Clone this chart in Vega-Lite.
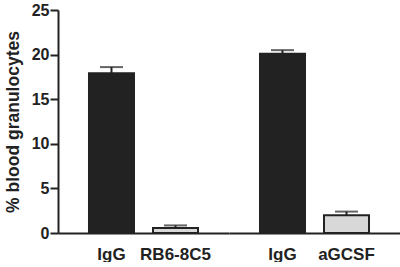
{
  "$schema": "https://vega.github.io/schema/vega-lite/v6.json",
  "padding": {"left": 4, "top": 2, "right": 0, "bottom": 0},
  "data": {"values": [
    {"group": "A", "label": "IgG", "mean": 17.9, "upper": 18.6, "kind": "control"},
    {"group": "A", "label": "RB6-8C5", "mean": 0.55, "upper": 0.85, "kind": "treated"},
    {"group": "B", "label": "IgG", "mean": 20.1, "upper": 20.5, "kind": "control"},
    {"group": "B", "label": "aGCSF", "mean": 2.0, "upper": 2.4, "kind": "treated"}
  ]},
  "facet": {"column": {"field": "group", "type": "nominal", "header": {"title": null, "labels": false}}},
  "spacing": 0,
  "resolve": {"scale": {"x": "independent"}},
  "spec": {
    "width": 171,
    "height": 223,
    "layer": [
      {
        "mark": {"type": "bar", "strokeWidth": 2, "stroke": "#222222"},
        "encoding": {
          "x": {"field": "label", "type": "nominal", "sort": ["IgG", "RB6-8C5", "aGCSF"],
                "scale": {"paddingInner": 0.297, "paddingOuter": 0.484},
                "axis": {"title": null, "labelAngle": 0, "ticks": false, "domainWidth": 2, "domainColor": "#222222",
                         "labelFont": "Liberation Sans", "labelFontWeight": "bold", "labelFontSize": 17, "labelColor": "#222222", "labelPadding": 13}},
          "y": {"field": "mean", "type": "quantitative", "scale": {"domain": [0, 25], "nice": false},
                "axis": {"title": "% blood granulocytes", "values": [0, 5, 10, 15, 20, 25], "grid": false,
                         "domainWidth": 2, "domainColor": "#222222", "tickWidth": 2, "tickSize": 8, "tickColor": "#222222",
                         "labelFont": "Liberation Sans", "labelFontWeight": "bold", "labelFontSize": 16, "labelColor": "#222222", "labelPadding": 1,
                         "titleFont": "Liberation Sans", "titleFontWeight": "bold", "titleFontSize": 17.5, "titleColor": "#222222", "titlePadding": 9}},
          "fill": {"field": "kind", "type": "nominal", "scale": {"domain": ["control", "treated"], "range": ["#222222", "#d8d8d8"]}, "legend": null}
        }
      },
      {
        "mark": {"type": "rule", "strokeWidth": 2, "color": "#222222"},
        "encoding": {
          "x": {"field": "label", "type": "nominal", "sort": ["IgG", "RB6-8C5", "aGCSF"]},
          "y": {"field": "mean", "type": "quantitative"},
          "y2": {"field": "upper"}
        }
      },
      {
        "mark": {"type": "tick", "thickness": 2, "size": 23, "color": "#222222"},
        "encoding": {
          "x": {"field": "label", "type": "nominal", "sort": ["IgG", "RB6-8C5", "aGCSF"]},
          "y": {"field": "upper", "type": "quantitative"}
        }
      }
    ]
  },
  "config": {"view": {"stroke": null}}
}
